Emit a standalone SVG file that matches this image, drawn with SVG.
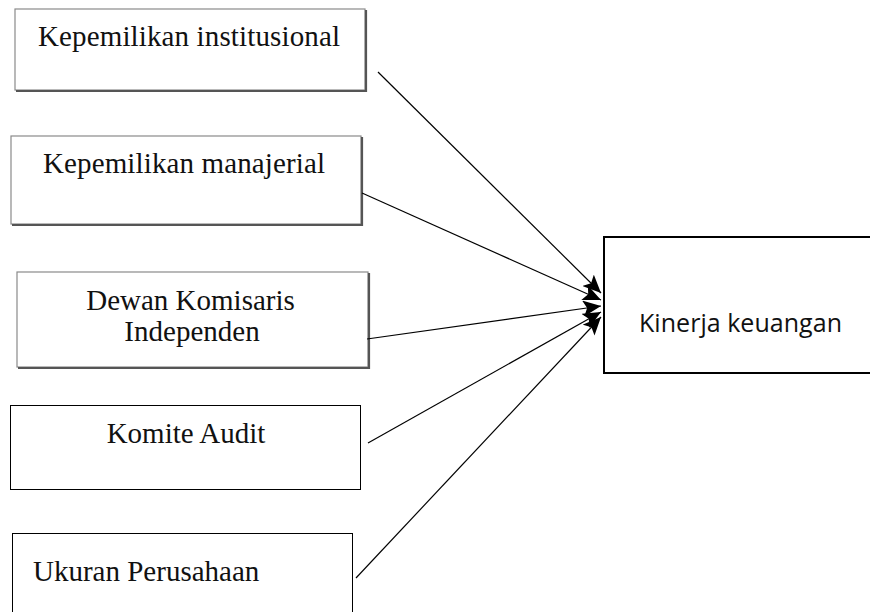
<svg xmlns="http://www.w3.org/2000/svg" width="870" height="612" viewBox="0 0 870 612">
<style>
.bg{fill:#fff}
.sbox{fill:#fff;stroke:#8a8a8a;stroke-width:1.2}
.shadow{fill:none;stroke:#555;stroke-width:2.2}
.box{fill:#fff;stroke:#000;stroke-width:1}
.tbox{fill:#fff;stroke:#000;stroke-width:2}
.serif{font-family:"Liberation Serif","Times New Roman",serif;font-size:29px;fill:#111}
.sans{font-family:"Open Sans","Noto Sans",sans-serif;font-size:25px;fill:#111}
.conn{stroke:#000;stroke-width:1.2;fill:none;marker-end:url(#ah)}
</style>
<defs>
<marker id="ah" markerUnits="userSpaceOnUse" markerWidth="19" markerHeight="16" refX="18" refY="8" orient="auto">
<path d="M0,0 L18,8 L0,16 L4,8 Z" fill="#000"/>
</marker>
</defs>
<rect class="bg" x="0" y="0" width="870" height="612"/>
<g id="n1">
<rect class="sbox" x="15" y="9" width="350" height="81"/>
<path class="shadow" d="M366,10 V91 H16"/>
<text class="serif" x="189" y="46" text-anchor="middle" textLength="302">Kepemilikan institusional</text>
</g>
<g id="n2">
<rect class="sbox" x="11" y="136" width="350" height="88"/>
<path class="shadow" d="M362,137 V225 H12"/>
<text class="serif" x="184" y="173" text-anchor="middle" textLength="282">Kepemilikan manajerial</text>
</g>
<g id="n3">
<rect class="sbox" x="17" y="272" width="351" height="95"/>
<path class="shadow" d="M369,273 V368 H18"/>
<text class="serif" x="190.5" y="310" text-anchor="middle">Dewan Komisaris</text>
<text class="serif" x="192" y="341" text-anchor="middle">Independen</text>
</g>
<g id="n4">
<rect class="box" x="10.5" y="405.5" width="350" height="84"/>
<text class="serif" x="186" y="443" text-anchor="middle">Komite Audit</text>
</g>
<g id="n5">
<rect class="box" x="12.5" y="533.5" width="340" height="90"/>
<text class="serif" x="33" y="581">Ukuran Perusahaan</text>
</g>
<g id="n6">
<rect class="tbox" x="604" y="237" width="270" height="136"/>
<text class="sans" x="639" y="332" textLength="203">Kinerja keuangan</text>
</g>
<g id="connectors">
<line class="conn" x1="378" y1="72" x2="601" y2="293"/>
<line class="conn" x1="362" y1="193" x2="601" y2="300"/>
<line class="conn" x1="367" y1="339" x2="601" y2="306"/>
<line class="conn" x1="368" y1="443" x2="601" y2="312"/>
<line class="conn" x1="356" y1="578" x2="601" y2="317"/>
</g>
</svg>
